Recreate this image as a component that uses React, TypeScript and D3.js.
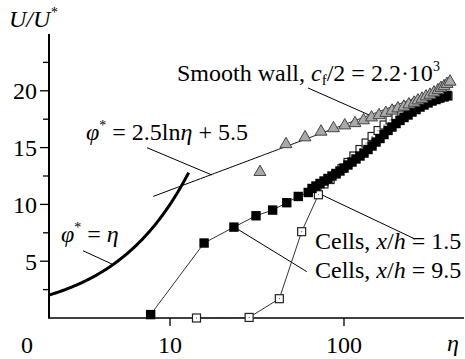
import React from 'react'
import * as d3 from 'd3'

// smooth wall (triangles)
const smoothEta = [32.9, 46.4, 59.7, 73.8, 87, 101, 115.7, 129.5, 144, 159, 174, 189, 204, 221, 236, 253, 266, 281, 296, 312, 329, 347, 361, 376, 391, 407]
const smoothU = [12.85, 15.3, 15.9, 16.4, 16.7, 16.95, 17.15, 17.4, 17.65, 17.85, 18.05, 18.25, 18.45, 18.6, 18.8, 18.95, 19.15, 19.3, 19.5, 19.65, 19.85, 20.05, 20.25, 20.4, 20.6, 20.8]

// cells x/h = 9.5 (filled squares)
const cells95Eta = [7.74, 15.7, 23.3, 31.2, 38.9, 46.9, 54.6, 62.3, 65.5, 69, 72.8, 76.8, 80.9, 85.3, 89.9, 94.8, 100, 105.4, 111.2, 117.2, 123.6, 130.3, 137.4, 144.9, 152.8, 161.1, 169.8, 179.1, 188.8, 199.1, 209.9, 221.3, 233.3, 246, 259.4, 273.5, 288.4, 304.1, 320.6, 338, 356.4, 375.8, 390.8]
const cells95U = [0.3, 6.6, 8.0, 9.0, 9.5, 10.15, 10.7, 11.05, 11.4, 11.62, 11.84, 12.06, 12.28, 12.5, 12.72, 12.94, 13.2, 13.47, 13.73, 14.0, 14.26, 14.52, 14.83, 15.14, 15.49, 15.8, 16.15, 16.51, 16.81, 17.12, 17.39, 17.65, 17.87, 18.13, 18.35, 18.57, 18.75, 18.93, 19.1, 19.23, 19.37, 19.5, 19.59]

// cells x/h = 1.5 (open squares)
const cells15Eta = [14.2, 28.5, 42.5, 57.1, 71.3, 76.7, 83.2, 90, 97.4, 105.5, 114, 123.6, 134, 145, 157, 170, 184, 199, 215, 233, 253, 273, 296, 320, 347, 376, 396]
const cells15U = [0, 0.05, 1.7, 7.6, 10.85, 11.8, 12.19, 12.68, 13.16, 13.69, 14.26, 14.83, 15.4, 15.98, 16.5, 16.99, 17.43, 17.78, 18.13, 18.4, 18.66, 18.84, 19.01, 19.19, 19.32, 19.45, 19.54]

const yMajor = [5, 10, 15, 20]
const yMinor = [2.5, 7.5, 12.5, 17.5, 22.5]
const xTicks = [10, 100]

// leader lines [eta1, u1, eta2, u2]
const leaders = [
  [3.16, 5.92, 4.64, 4.75],
  [7.38, 14.99, 17.4, 12.59],
  [62.1, 20.25, 146.8, 17.72],
  [70.9, 11.0, 256, 6.95],
  [23.7, 7.95, 61.1, 4.08]
]

const W = 465
const H = 359

const x = d3.scaleLog().domain([2, 500]).range([48.4, 465.6])
const y = d3.scaleLinear().domain([0, 25]).range([318, 34])

const font = 'Liberation Serif, Times New Roman, serif'

const App = () => {
  const line = d3.line<[number, number]>().x(d => x(d[0])).y(d => y(d[1]))

  const linearEta = d3.range(2, 12.81, 0.1)
  const logEta = d3.range(8, 410, 1)
  const linearPts = linearEta.map(e => [e, e] as [number, number])
  const logPts = logEta.map(e => [e, 2.5 * Math.log(e) + 5.5] as [number, number])

  const p95 = cells95Eta.map((e, i) => [e, cells95U[i]] as [number, number])
  const p15 = cells15Eta.map((e, i) => [e, cells15U[i]] as [number, number])
  const pSm = smoothEta.map((e, i) => [e, smoothU[i]] as [number, number])

  const tri = d3.symbol().type(d3.symbolTriangle).size(62)()

  return (
    <svg width={W} height={H} style={{ position: 'absolute', left: 0, top: 0, background: '#fff' }} fontFamily={font} fontSize={24}>
      {/* axes */}
      <line x1={49} x2={49} y1={y(25)} y2={y(0)} stroke="#000" strokeWidth={2} />
      <line x1={48} x2={464} y1={y(0)} y2={y(0)} stroke="#000" strokeWidth={1.5} />
      {yMajor.map(v => (
        <g key={'ym' + v}>
          <line x1={40} x2={49} y1={y(v)} y2={y(v)} stroke="#000" strokeWidth={1.3} />
          <text x={37} y={y(v)} dy="0.35em" textAnchor="end">{v}</text>
        </g>
      ))}
      {yMinor.map(v => (
        <line key={'yn' + v} x1={43} x2={49} y1={y(v)} y2={y(v)} stroke="#000" strokeWidth={1.3} />
      ))}
      {xTicks.map(v => (
        <g key={'xt' + v}>
          <line x1={x(v)} x2={x(v)} y1={y(0)} y2={y(0) + 8} stroke="#000" strokeWidth={1.3} />
          <text x={x(v)} y={353} textAnchor="middle">{v}</text>
        </g>
      ))}
      <text x={27} y={353} textAnchor="middle">0</text>
      <text x={453} y={351} textAnchor="middle" fontStyle="italic">η</text>
      <text x={9} y={27} fontStyle="italic">U/U<tspan dy={-10} fontSize={14}>*</tspan></text>

      {/* theory lines */}
      <path d={line(linearPts) || ''} fill="none" stroke="#000" strokeWidth={3} />
      <path d={line(logPts) || ''} fill="none" stroke="#000" strokeWidth={1} />

      {/* leader lines */}
      {leaders.map((l, i) => (
        <line key={'ld' + i} x1={x(l[0])} y1={y(l[1])} x2={x(l[2])} y2={y(l[3])} stroke="#000" strokeWidth={1} />
      ))}

      {/* series */}
      <path d={line(p15) || ''} fill="none" stroke="#333" strokeWidth={1} />
      <path d={line(p95) || ''} fill="none" stroke="#333" strokeWidth={1} />
      {p15.map((p, i) => (
        <g key={'o' + i}>
          <rect x={x(p[0]) - 4} y={y(p[1]) - 4} width={8} height={8} fill="#fff" stroke="#222" strokeWidth={1.2} />
          <rect x={x(p[0]) - 0.5} y={y(p[1]) - 0.5} width={1} height={1} fill="#555" />
        </g>
      ))}
      {p95.map((p, i) => (
        <rect key={'f' + i} x={x(p[0]) - 4.7} y={y(p[1]) - 4.7} width={9.4} height={9.4} fill="#000" />
      ))}
      {pSm.map((p, i) => (
        <path key={'t' + i} d={tri || ''} transform={`translate(${x(p[0])},${y(p[1])})`} fill="#a9a9a9" stroke="#444" strokeWidth={1} />
      ))}

      {/* annotations */}
      <text x={177} y={81}>
        Smooth wall, <tspan fontStyle="italic">c</tspan><tspan fontSize={15} dy={4}>f</tspan><tspan dy={-4}>/2 = 2.2·10</tspan><tspan fontSize={14} dy={-10}>3</tspan>
      </text>
      <text x={86} y={140}>
        <tspan fontStyle="italic">φ</tspan><tspan fontSize={14} dy={-10}>*</tspan><tspan dy={10}> = 2.5ln</tspan><tspan fontStyle="italic">η</tspan> + 5.5
      </text>
      <text x={61} y={242}>
        <tspan fontStyle="italic">φ</tspan><tspan fontSize={14} dy={-10}>*</tspan><tspan dy={10}> = </tspan><tspan fontStyle="italic">η</tspan>
      </text>
      <text x={315} y={249}>
        Cells, <tspan fontStyle="italic">x</tspan>/<tspan fontStyle="italic">h</tspan> = 1.5
      </text>
      <text x={315} y={278}>
        Cells, <tspan fontStyle="italic">x</tspan>/<tspan fontStyle="italic">h</tspan> = 9.5
      </text>
    </svg>
  )
}

export default App
